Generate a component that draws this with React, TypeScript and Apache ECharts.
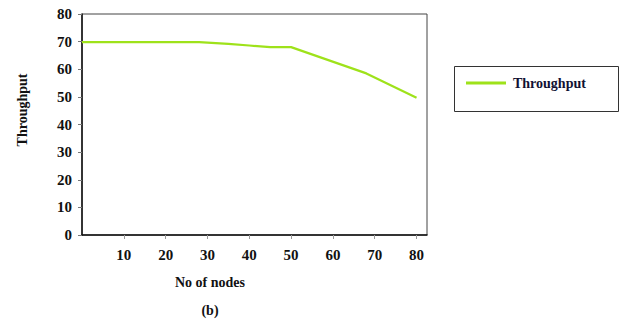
import React, { useEffect, useRef } from "react";
import * as echarts from "echarts";

const nodes = [0, 28, 35, 40, 45, 50, 68, 80];
const throughput = [69.8, 69.8, 69.2, 68.6, 68.0, 68.0, 58.5, 49.7];
const xTicks = [10, 20, 30, 40, 50, 60, 70, 80];
const seriesName = "Throughput";

const FONT = "'Liberation Serif', 'Times New Roman', serif";
const LINE = "#9ee21a";

export default function App() {
  const ref = useRef<HTMLDivElement>(null);
  useEffect(() => {
    if (!ref.current) return;
    const chart = echarts.init(ref.current, null, { renderer: "svg" });
    chart.setOption({
      animation: false,
      backgroundColor: "#ffffff",
      grid: {
        left: 82,
        right: 194,
        top: 14,
        bottom: 86,
        show: true,
        borderColor: "#444",
        borderWidth: 1,
        backgroundColor: "transparent",
      },
      legend: {
        left: 466,
        top: 76,
        itemWidth: 40,
        itemHeight: 3,
        itemGap: 10,
        padding: 0,
        icon: "rect",
        data: [seriesName],
        textStyle: {
          fontFamily: FONT,
          fontWeight: "bold",
          fontSize: 14,
          color: "#111133",
          padding: [0, 0, 0, 2],
        },
      },
      xAxis: {
        type: "value",
        min: 0,
        max: 82.5,
        interval: 10,
        axisLine: { show: true, lineStyle: { color: "#111", width: 1.5 } },
        axisTick: {
          show: true,
          length: 4,
          customValues: xTicks,
          lineStyle: { color: "#999" },
        },
        axisLabel: {
          customValues: xTicks,
          fontFamily: FONT,
          fontWeight: "bold",
          fontSize: 15,
          color: "#111",
          margin: 12,
        },
        splitLine: { show: false },
      },
      yAxis: {
        type: "value",
        min: 0,
        max: 80,
        interval: 10,
        axisLine: { show: true, lineStyle: { color: "#111", width: 1.5 } },
        axisTick: { show: true, length: 4, lineStyle: { color: "#777" } },
        axisLabel: {
          fontFamily: FONT,
          fontWeight: "bold",
          fontSize: 15,
          color: "#111",
          margin: 10,
        },
        splitLine: { show: false },
      },
      series: [
        {
          name: seriesName,
          type: "line",
          data: nodes.map((n, i) => [n, throughput[i]]),
          showSymbol: false,
          symbol: "none",
          lineStyle: { color: LINE, width: 2.2 },
          itemStyle: { color: LINE },
        },
      ],
      graphic: [
        {
          type: "rect",
          shape: { x: 454.5, y: 66.5, width: 164, height: 45 },
          style: { fill: "none", stroke: "#333", lineWidth: 1 },
        },
        {
          type: "text",
          x: 22,
          y: 110,
          rotation: Math.PI / 2,
          style: {
            text: "Throughput",
            fontFamily: FONT,
            fontWeight: "bold",
            fontSize: 14,
            fill: "#111",
            align: "center",
            verticalAlign: "middle",
          },
        },
        {
          type: "text",
          x: 210,
          y: 282,
          style: {
            text: "No of nodes",
            fontFamily: FONT,
            fontWeight: "bold",
            fontSize: 14,
            fill: "#111",
            align: "center",
            verticalAlign: "middle",
          },
        },
        {
          type: "text",
          x: 210,
          y: 310,
          style: {
            text: "(b)",
            fontFamily: FONT,
            fontWeight: "bold",
            fontSize: 14,
            fill: "#111",
            align: "center",
            verticalAlign: "middle",
          },
        },
      ],
    });
    return () => chart.dispose();
  }, []);
  return (
    <div
      ref={ref}
      style={{ position: "fixed", left: 0, top: 0, width: 621, height: 321 }}
    />
  );
}
